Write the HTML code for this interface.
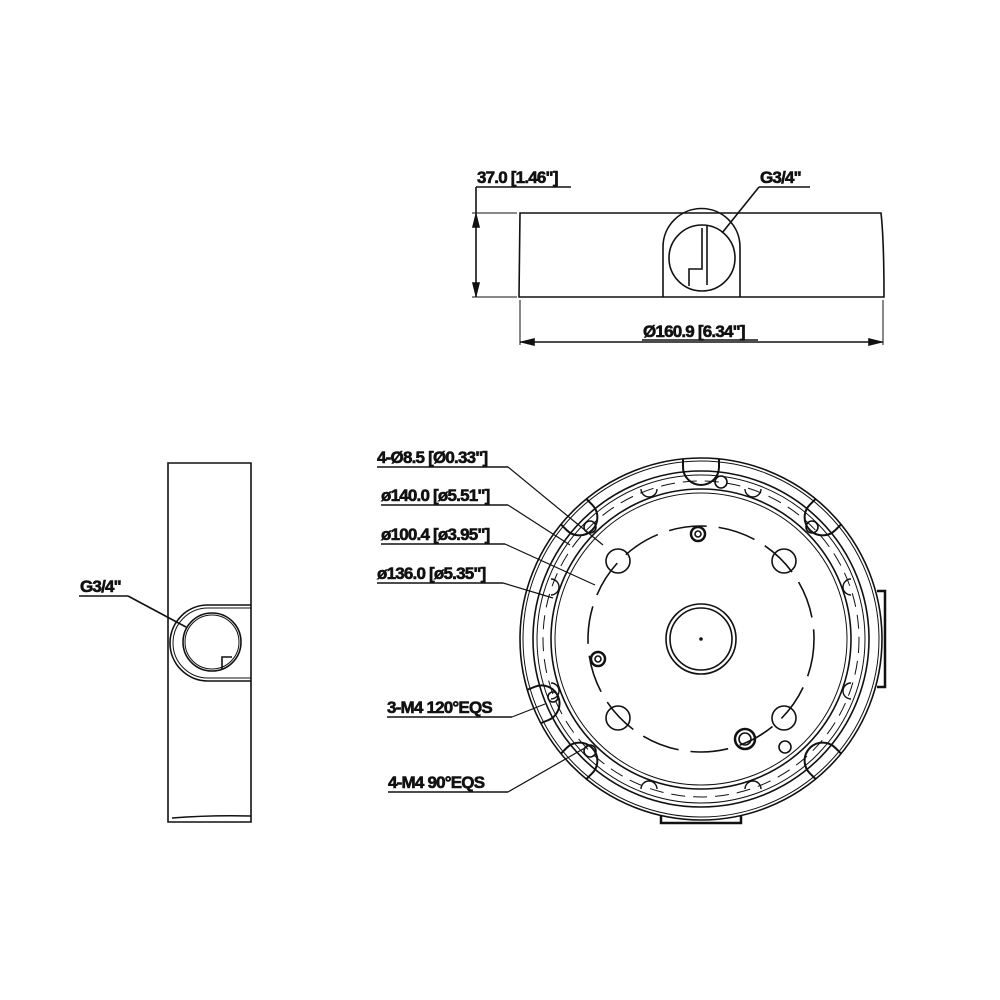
<!DOCTYPE html>
<html><head><meta charset="utf-8"><style>
html,body{margin:0;padding:0;background:#fff}
svg{display:block}
text{font-family:"Liberation Sans Narrow","Liberation Sans",sans-serif;font-weight:bold;font-size:17px;fill:#111;letter-spacing:-0.8px}
</style></head><body>
<svg width="1000" height="1000" viewBox="0 0 1000 1000" fill="none" stroke="#111" stroke-width="1.6">
<!-- TOP VIEW -->
<text x="477" y="183" stroke="#111" stroke-width="0.6">37.0 [1.46"]</text>
<line x1="476" y1="187" x2="571" y2="187"/>
<line x1="476" y1="187" x2="476" y2="297"/>
<line x1="472" y1="213" x2="517" y2="213" stroke-width="1"/>
<line x1="472" y1="297" x2="517" y2="297" stroke-width="1"/>
<path d="M476 215 l-3 12 h6z M476 295 l-3 -12 h6z" fill="#111"/>
<path d="M520 213 H881 Q884 240 884 297 H519 Z"/>
<path d="M663 297 V247 A38 38 0 0 1 740 247 V297"/>
<circle cx="702" cy="258" r="33"/>
<path d="M707 226 V285 M702 228 V269 H689 V286"/>
<text x="760" y="183" stroke="#111" stroke-width="0.6">G3/4"</text>
<line x1="759" y1="187" x2="810" y2="187"/>
<line x1="759" y1="187" x2="722" y2="233"/>
<line x1="520" y1="300" x2="520" y2="345" stroke-width="1"/>
<line x1="883" y1="300" x2="883" y2="345" stroke-width="1"/>
<line x1="520" y1="342" x2="883" y2="342"/>
<path d="M522 342 l12 -3 v6z M881 342 l-12 -3 v6z" fill="#111"/>
<text x="643" y="337" stroke="#111" stroke-width="0.6">Ø160.9 [6.34"]</text>
<line x1="642" y1="340" x2="758" y2="340"/>
<!-- SIDE VIEW -->
<path d="M168 463 H251 V822 H168 Z"/>
<path d="M172 818 Q210 815 251 816"/>
<path d="M251 605 H208 A38 38 0 0 0 208 681 H251"/>
<path d="M251 608 H208 A35 35 0 0 0 208 678 H251" stroke-width="1"/>
<circle cx="212" cy="642" r="29"/>
<circle cx="212" cy="642" r="27" stroke-width="1"/>
<path d="M222 669 V657 H232"/>
<text x="80" y="592" stroke="#111" stroke-width="0.6">G3/4"</text>
<line x1="79" y1="596" x2="128" y2="596"/>
<line x1="128" y1="596" x2="186" y2="627"/>
<!-- BOTTOM VIEW -->
<g transform="translate(701,639)">
<circle r="181"/>
<circle r="178" stroke-width="1"/>
<circle r="168"/>
<circle r="164" stroke-width="1"/>
<circle r="150"/>
<circle r="146" stroke-width="1"/>
<circle r="158" stroke-width="1" stroke-dasharray="14 8"/>
<circle r="113" stroke-dasharray="38 12"/>
<circle r="35"/>
<circle r="31"/>
<circle r="1" fill="#111"/>
<g stroke-width="2">
<path d="M-18 -180 V-172 A14 14 0 0 0 18 -172 V-180"/>
<path d="M-18 -180 V-172 A14 14 0 0 0 18 -172 V-180" transform="rotate(45)"/>
<path d="M-18 -180 V-172 A14 14 0 0 0 18 -172 V-180" transform="rotate(-45)"/>
<path d="M-18 -180 V-172 A14 14 0 0 0 18 -172 V-180" transform="rotate(135)"/>
<path d="M-18 -180 V-172 A14 14 0 0 0 18 -172 V-180" transform="rotate(-135)"/>
<path d="M-18 -180 V-172 A14 14 0 0 0 18 -172 V-180" transform="rotate(-112)"/>
</g>
<circle cx="20" cy="-157" r="6"/>
<circle cx="111" cy="-112" r="6"/>
<circle cx="-111" cy="-112" r="6"/>
<circle cx="-111" cy="112" r="6"/>
<circle cx="-148" cy="58" r="5"/>
<circle cx="84" cy="108" r="6"/>
<g stroke-width="1.4">
<path d="M-60 -150 a8 8 0 0 0 16 0"/><path d="M44 -150 a8 8 0 0 0 16 0"/>
<path d="M-150 -60 a8 8 0 0 1 0 16"/><path d="M-150 44 a8 8 0 0 1 0 16"/>
<path d="M-60 150 a8 8 0 0 1 16 0"/><path d="M44 150 a8 8 0 0 1 16 0"/>
<path d="M150 -60 a8 8 0 0 0 0 16"/><path d="M150 44 a8 8 0 0 0 0 16"/>
</g>
<path d="M176 -48 H184 V48 H176" stroke-width="2.5"/>
<path d="M-40 176 V184 H40 V176" stroke-width="2.5"/>
<circle cx="-83" cy="-78" r="12"/>
<circle cx="83" cy="-78" r="12"/>
<circle cx="-83" cy="79" r="12"/>
<circle cx="83" cy="79" r="12"/>
<circle cx="-3" cy="-105" r="7" stroke-width="2.5"/>
<circle cx="-3" cy="-105" r="3"/>
<circle cx="-103" cy="20" r="7" stroke-width="2.5"/>
<circle cx="-103" cy="20" r="3"/>
<circle cx="44" cy="100" r="10" stroke-width="2.5"/>
<circle cx="44" cy="100" r="6"/>
</g>
<text x="377" y="463" stroke="#111" stroke-width="0.6">4-Ø8.5 [Ø0.33"]</text>
<line x1="377" y1="467" x2="508" y2="467"/>
<line x1="508" y1="467" x2="603" y2="545" stroke-width="1.2"/>
<text x="381" y="501" stroke="#111" stroke-width="0.6">ø140.0 [ø5.51"]</text>
<line x1="381" y1="505" x2="508" y2="505"/>
<line x1="508" y1="505" x2="570" y2="545" stroke-width="1.2"/>
<text x="381" y="540" stroke="#111" stroke-width="0.6">ø100.4 [ø3.95"]</text>
<line x1="381" y1="544" x2="505" y2="544"/>
<line x1="505" y1="544" x2="595" y2="585" stroke-width="1.2"/>
<text x="377" y="579" stroke="#111" stroke-width="0.6">ø136.0 [ø5.35"]</text>
<line x1="377" y1="583" x2="503" y2="583"/>
<line x1="503" y1="583" x2="553" y2="598" stroke-width="1.2"/>
<text x="387" y="713" stroke="#111" stroke-width="0.6">3-M4 120°EQS</text>
<line x1="387" y1="717" x2="512" y2="717"/>
<line x1="512" y1="717" x2="545" y2="704" stroke-width="1.2"/>
<text x="388" y="788" stroke="#111" stroke-width="0.6">4-M4 90°EQS</text>
<line x1="388" y1="792" x2="508" y2="792"/>
<line x1="508" y1="792" x2="590" y2="745" stroke-width="1.2"/>
</svg>
</body></html>
